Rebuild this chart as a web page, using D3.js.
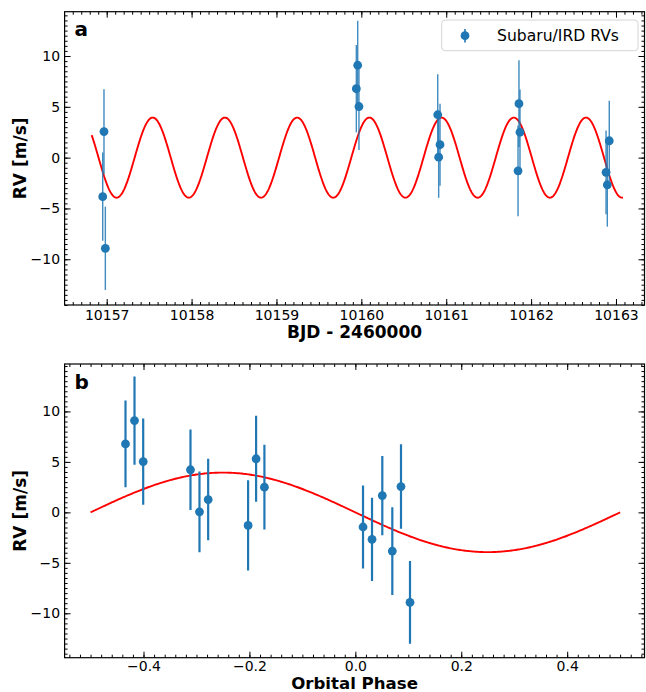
<!DOCTYPE html>
<html>
<head>
<meta charset="utf-8">
<script src="https://cdn.jsdelivr.net/npm/d3@7"></script>
<style>
  html, body { margin: 0; padding: 0; background: #fff; }
  svg { display: block; }
  text { font-family: "DejaVu Sans", sans-serif; }
</style>
</head>
<body>
<svg id="chart" width="646" height="692"></svg>
<script>
// ---------------- data ----------------
const bjd   = [10156.953, 10156.968, 10156.984,
               10159.941, 10159.957, 10159.972,
               10160.900, 10160.911, 10160.927,
               10161.846, 10161.857, 10161.869,
               10162.883, 10162.898, 10162.921];
const rv    = [-3.84, 2.56, -8.92,
                6.78, 9.09, 5.03,
                4.22, 0.05, 1.27,
               -1.30, 5.31, 2.50,
               -1.45, -2.67, 1.66];
const rvErr = [4.35, 4.18, 4.10,
               4.30, 4.37, 4.28,
               3.98, 4.00, 4.03,
               4.47, 4.27, 4.20,
               4.12, 4.12, 3.93];
const phase = [0.0698, 0.0862, 0.1032,
              -0.4340, -0.4170, -0.4006,
              -0.3113, -0.2943, -0.2779,
              -0.2025, -0.1874, -0.1717,
               0.0145, 0.0315, 0.0509];

// circular-orbit model parameters
const modelK  = 3.94;        // m/s
const modelP  = 0.8508;      // days
const modelT0 = 10160.307;   // BJD - 2460000 (phase zero)
const modelSpan = [10156.823, 10163.083];

const timeTicks  = [10157, 10158, 10159, 10160, 10161, 10162, 10163];
const phaseTicks = [-0.4, -0.2, 0.0, 0.2, 0.4];
const rvTicks    = [-10, -5, 0, 5, 10];
const legendLabel = "Subaru/IRD RVs";

// ---------------- layout ----------------
const svg = d3.select("#chart");
const blue = "#1f77b4";

const panels = [
  { name: "a", left: 64.6, right: 644.5, top: 11.7, bottom: 305,
    xDomain: [10156.504, 10163.336], yDomain: [-14.5, 14.36],
    xTicks: timeTicks, xMinorStep: 0.1, xFmt: d3.format("d"),
    xLabel: "BJD - 2460000", xs: bjd, errW: 1.4, errOp: 0.85,
    tickDy: 14.5, labelDy: 32.5, labelSize: 17 },
  { name: "b", left: 64.6, right: 644.5, top: 364, bottom: 657.7,
    xDomain: [-0.549, 0.546], yDomain: [-14.4, 14.7],
    xTicks: phaseTicks, xMinorStep: 0.02, xFmt: d3.format(".1f"),
    xLabel: "Orbital Phase", xs: phase, errW: 2.2, errOp: 1,
    tickDy: 13.6, labelDy: 31.6, labelSize: 16.6 }
];

function rangeStep(lo, hi, step) {
  const out = [];
  const n0 = Math.ceil(lo / step - 1e-9), n1 = Math.floor(hi / step + 1e-9);
  for (let n = n0; n <= n1; n++) out.push(+(n * step).toFixed(6));
  return out;
}

panels.forEach((p, pi) => {
  const x = d3.scaleLinear().domain(p.xDomain).range([p.left, p.right]);
  const y = d3.scaleLinear().domain(p.yDomain).range([p.bottom, p.top]);
  const g = svg.append("g");
  const W = p.right - p.left, H = p.bottom - p.top;

  const clipId = "clip" + pi;
  svg.append("clipPath").attr("id", clipId).append("rect")
    .attr("x", p.left).attr("y", p.top).attr("width", W).attr("height", H);

  // model curve
  let curve;
  if (pi === 0) {
    const n = 900;
    curve = d3.range(n + 1).map(i => {
      const t = modelSpan[0] + (modelSpan[1] - modelSpan[0]) * i / n;
      return [t, -modelK * Math.sin(2 * Math.PI * (t - modelT0) / modelP)];
    });
  } else {
    const n = 400;
    curve = d3.range(n + 1).map(i => {
      const ph = -0.5 + i / n;
      return [ph, -modelK * Math.sin(2 * Math.PI * ph)];
    });
  }
  const plot = g.append("g").attr("clip-path", `url(#${clipId})`);
  plot.append("path")
    .datum(curve)
    .attr("fill", "none").attr("stroke", "red").attr("stroke-width", 1.9)
    .attr("d", d3.line().x(d => x(d[0])).y(d => y(d[1])));

  // error bars + points
  const pts = rv.map((v, i) => ({ x: p.xs[i], y: v, e: rvErr[i] }));
  plot.selectAll("line.err").data(pts).enter().append("line")
    .attr("x1", d => x(d.x)).attr("x2", d => x(d.x))
    .attr("y1", d => y(d.y - d.e)).attr("y2", d => y(d.y + d.e))
    .attr("stroke", blue).attr("stroke-width", p.errW).attr("opacity", p.errOp);
  plot.selectAll("circle").data(pts).enter().append("circle")
    .attr("cx", d => x(d.x)).attr("cy", d => y(d.y)).attr("r", 4.4)
    .attr("fill", blue);

  // axes (ticks inward on all sides)
  const xMinor = rangeStep(p.xDomain[0], p.xDomain[1], p.xMinorStep);
  const yMinor = rangeStep(p.yDomain[0], p.yDomain[1], 0.5);
  const tickStyle = sel => {
    sel.select(".domain").remove();
    sel.selectAll(".tick line").attr("stroke", "#000").attr("stroke-width", 1);
    sel.selectAll("text").attr("fill", "#000")
      .style("font-family", '"DejaVu Sans", sans-serif').style("font-size", "14px");
  };

  // minor
  g.append("g").attr("transform", `translate(0,${p.bottom})`)
    .call(d3.axisBottom(x).tickValues(xMinor).tickFormat("").tickSize(-3)).call(tickStyle);
  g.append("g").attr("transform", `translate(0,${p.top})`)
    .call(d3.axisTop(x).tickValues(xMinor).tickFormat("").tickSize(-3)).call(tickStyle);
  g.append("g").attr("transform", `translate(${p.left},0)`)
    .call(d3.axisLeft(y).tickValues(yMinor).tickFormat("").tickSize(-3)).call(tickStyle);
  g.append("g").attr("transform", `translate(${p.right},0)`)
    .call(d3.axisRight(y).tickValues(yMinor).tickFormat("").tickSize(-3)).call(tickStyle);

  // major
  g.append("g").attr("transform", `translate(0,${p.bottom})`)
    .call(d3.axisBottom(x).tickValues(p.xTicks).tickFormat(p.xFmt).tickSize(-6).tickPadding(4))
    .call(tickStyle)
    .call(s => s.selectAll("text").attr("dy", null).attr("y", p.tickDy));
  g.append("g").attr("transform", `translate(0,${p.top})`)
    .call(d3.axisTop(x).tickValues(p.xTicks).tickFormat("").tickSize(-6)).call(tickStyle);
  g.append("g").attr("transform", `translate(${p.left},0)`)
    .call(d3.axisLeft(y).tickValues(rvTicks).tickFormat(d3.format("d")).tickSize(-6).tickPadding(4.5))
    .call(tickStyle);
  g.append("g").attr("transform", `translate(${p.right},0)`)
    .call(d3.axisRight(y).tickValues(rvTicks).tickFormat("").tickSize(-6)).call(tickStyle);

  // frame
  g.append("rect").attr("x", p.left).attr("y", p.top).attr("width", W).attr("height", H)
    .attr("fill", "none").attr("stroke", "#000").attr("stroke-width", 1.2);

  // labels
  g.append("text").attr("x", (p.left + p.right) / 2).attr("y", p.bottom + p.labelDy)
    .attr("text-anchor", "middle").style("font-size", p.labelSize + "px").style("font-weight", "bold")
    .text(p.xLabel);
  g.append("text")
    .attr("transform", `translate(25.5,${(p.top + p.bottom) / 2}) rotate(-90)`)
    .attr("text-anchor", "middle").style("font-size", "17px").style("font-weight", "bold")
    .text("RV [m/s]");
  g.append("text").attr("x", p.left + 10).attr("y", p.top + 24.5)
    .style("font-size", "20px").style("font-weight", "bold").text(p.name);

  // legend (panel a only)
  if (pi === 0) {
    const lg = g.append("g");
    lg.append("rect").attr("x", 441.7).attr("y", 20).attr("width", 196.3).attr("height", 30.7)
      .attr("rx", 3.5).attr("fill", "#fff").attr("fill-opacity", 0.8)
      .attr("stroke", "#d4d4d4").attr("stroke-width", 1);
    lg.append("line").attr("x1", 465).attr("x2", 465).attr("y1", 29).attr("y2", 42.5)
      .attr("stroke", blue).attr("stroke-width", 1.6);
    lg.append("circle").attr("cx", 465).attr("cy", 35.7).attr("r", 4.4).attr("fill", blue);
    lg.append("text").attr("x", 497).attr("y", 41.2)
      .style("font-size", "15.6px").attr("fill", "#000").text(legendLabel);
  }
});
</script>
</body>
</html>
